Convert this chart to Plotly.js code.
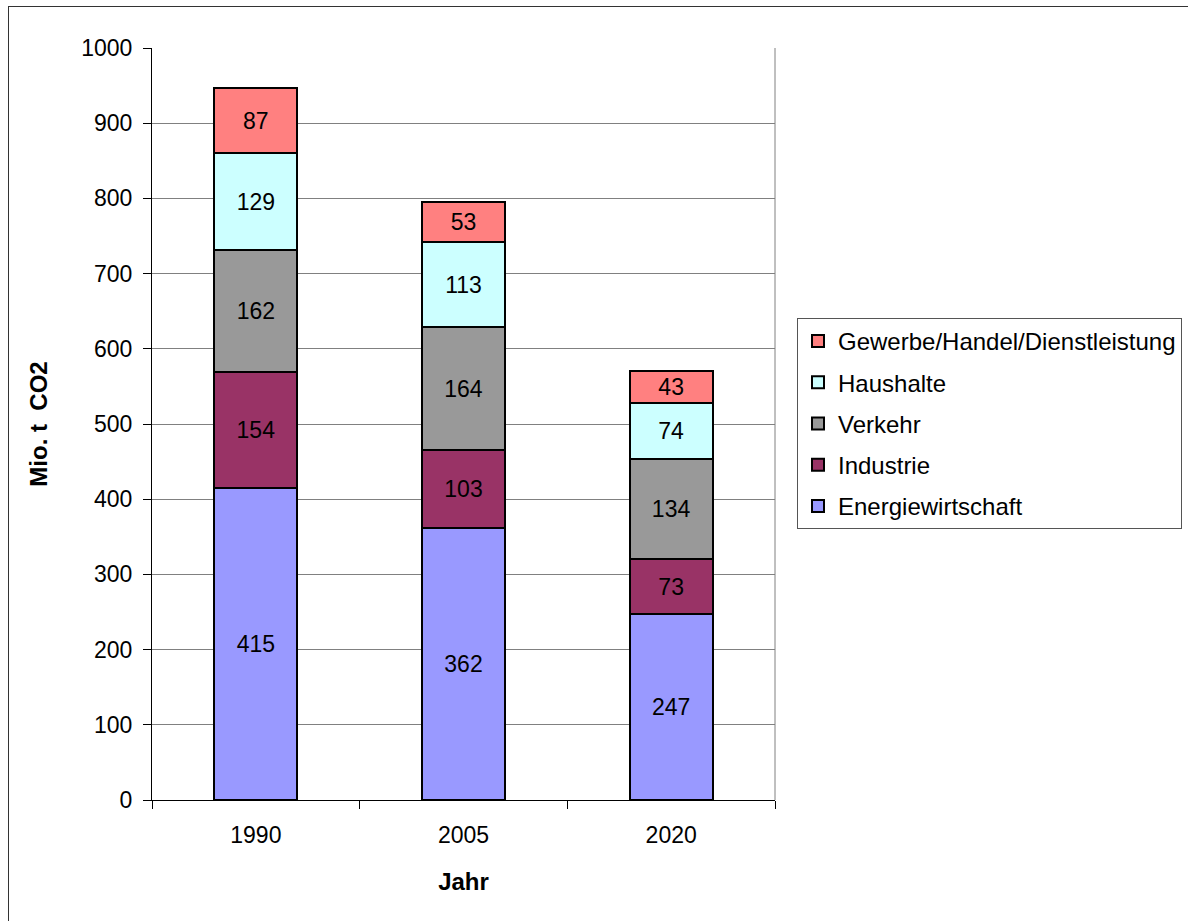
<!DOCTYPE html>
<html>
<head>
<meta charset="utf-8">
<script src="https://cdn.plot.ly/plotly-3.0.1.min.js"></script>
<style>
  html, body { margin: 0; padding: 0; background: #fff; }
  #chart { width: 1188px; height: 921px; position: absolute; left: 0; top: 0; }
  #frame { position: absolute; left: 8px; top: 6px; width: 1200px; height: 940px; border-left: 1px solid #333; border-top: 1px solid #333; pointer-events: none; }
</style>
</head>
<body>
<div id="chart"></div>
<div id="frame"></div>
<script>
const years = ['1990', '2005', '2020'];
const energiewirtschaft = [415, 362, 247];
const industrie = [154, 103, 73];
const verkehr = [162, 164, 134];
const haushalte = [129, 113, 74];
const gewerbe = [87, 53, 43];

const seriesNames = ['Energiewirtschaft', 'Industrie', 'Verkehr', 'Haushalte', 'Gewerbe/Handel/Dienstleistung'];
const seriesValues = [energiewirtschaft, industrie, verkehr, haushalte, gewerbe];
const seriesColors = ['#9999FF', '#993366', '#999999', '#CCFFFF', '#FF8080'];

const FONT = 'Liberation Sans, Arial, sans-serif';

const traces = seriesNames.map((n, i) => ({
  type: 'bar',
  name: n,
  legendgroup: 'g' + i,
  legendrank: 1000 - i,
  x: years,
  y: seriesValues[i],
  text: seriesValues[i].map(String),
  textposition: 'inside',
  insidetextanchor: 'middle',
  textangle: 0,
  textfont: { family: FONT, size: 23, color: '#000' },
  constraintext: 'none',
  marker: { color: seriesColors[i], line: { color: '#000', width: 2 } },
  hoverinfo: 'x+y+name'
}));

const layout = {
  width: 1188,
  height: 921,
  margin: { l: 152, r: 413, t: 48, b: 121 },
  paper_bgcolor: '#fff',
  plot_bgcolor: '#fff',
  barmode: 'stack',
  bargap: 0.6,
  showlegend: true,
  font: { family: FONT, size: 23, color: '#000' },
  legend: {
    traceorder: 'grouped',
    x: 797 / 1188, xref: 'container',
    y: 1 - 318 / 921, yref: 'container',
    xanchor: 'left', yanchor: 'top',
    bordercolor: '#555',
    borderwidth: 1,
    bgcolor: '#fff',
    font: { family: FONT, size: 24, color: '#000' },
    itemwidth: 30,
    tracegroupgap: 7
  },
  xaxis: {
    type: 'category',
    tickson: 'boundaries',
    ticks: 'outside',
    ticklen: 8,
    tickcolor: '#000',
    showline: true,
    linecolor: '#000',
    linewidth: 1,
    showgrid: false,
    tickfont: { size: 23 },
    ticklabelstandoff: 14,
    title: { text: '<b>Jahr</b>', font: { size: 24 }, standoff: 26 }
  },
  yaxis: {
    range: [0, 1000],
    dtick: 100,
    tick0: 0,
    ticks: 'outside',
    ticklen: 8,
    tickcolor: '#000',
    showline: true,
    linecolor: '#000',
    linewidth: 1,
    showgrid: true,
    gridcolor: '#808080',
    gridwidth: 1,
    zeroline: false,
    tickfont: { size: 23 },
    ticklabelstandoff: 6,
    title: { text: '<b>Mio. t  CO2</b>', font: { size: 24 }, standoff: 26 }
  },
  shapes: [
    { type: 'line', xref: 'paper', yref: 'paper', x0: 1, x1: 1, y0: 0, y1: 1, line: { color: '#808080', width: 1 } }
  ]
};

Plotly.newPlot('chart', traces, layout, { displayModeBar: false, staticPlot: true });
</script>
</body>
</html>
